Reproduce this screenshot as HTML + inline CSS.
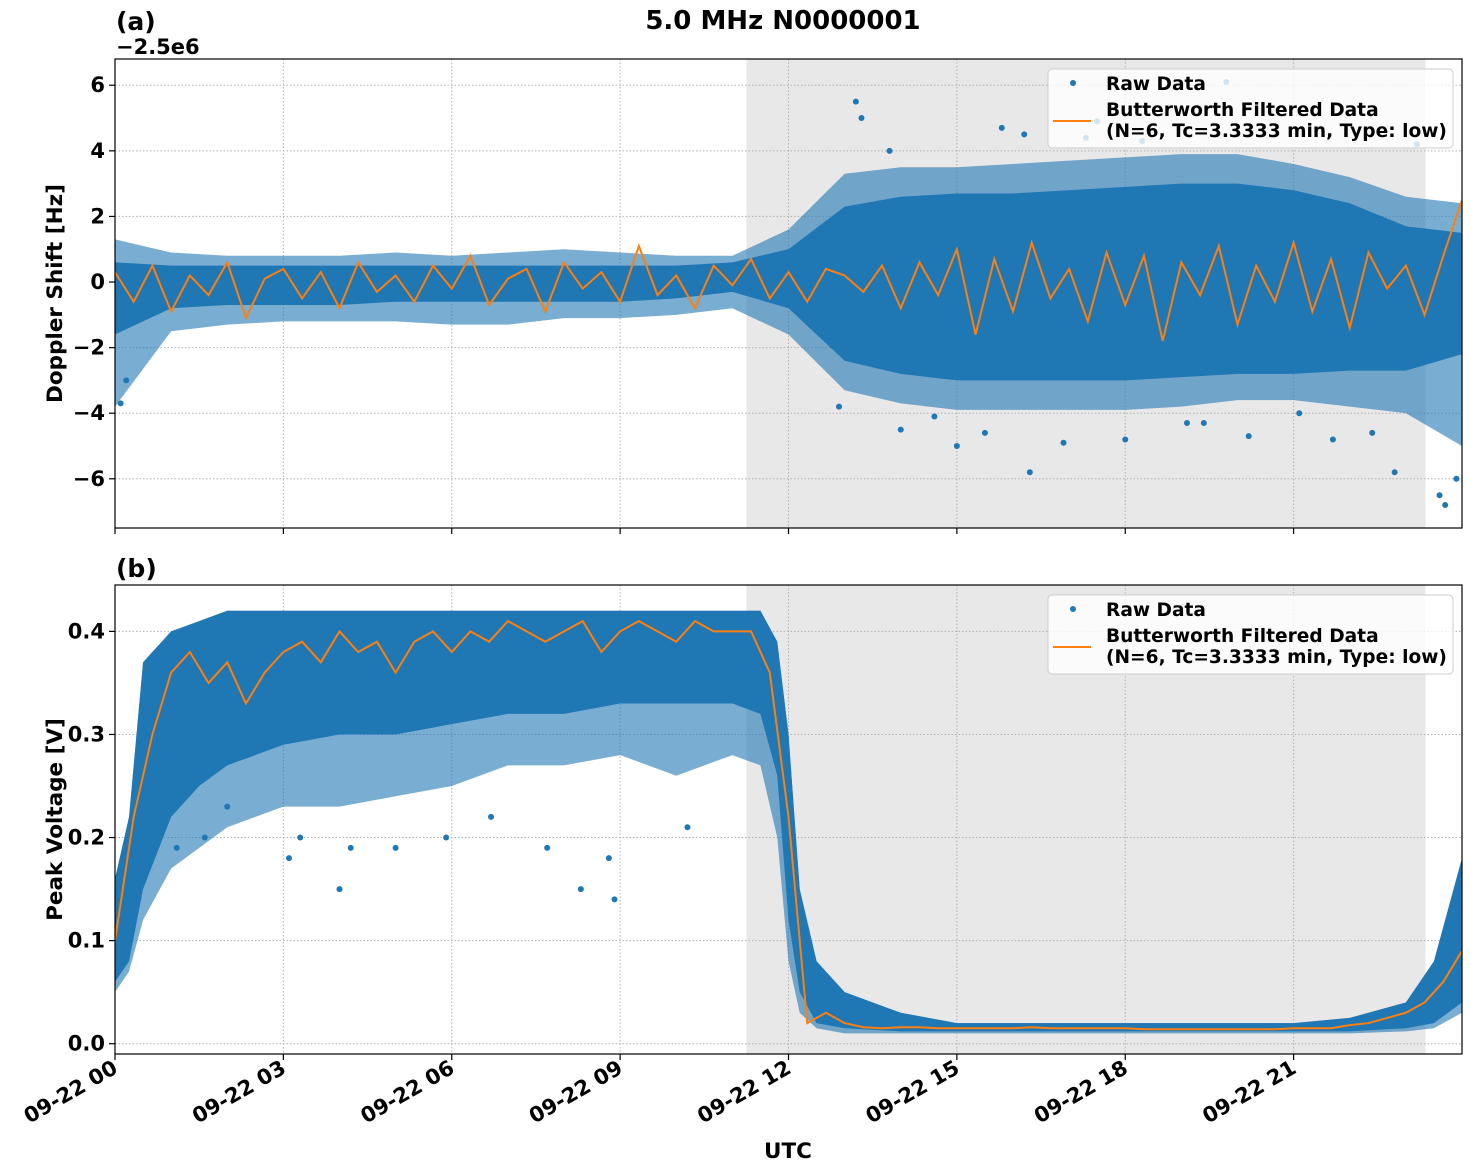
<!DOCTYPE html>
<html><head><meta charset="utf-8">
<style>
html,body{margin:0;padding:0;background:#fff;}
svg{display:block;font-family:"DejaVu Sans","Liberation Sans",sans-serif;font-weight:bold;}
</style></head>
<body>
<svg id="chart" width="1471" height="1172" xmlns="http://www.w3.org/2000/svg"></svg>
<script>
// ---- Data ----
const xTickLabels = ["09-22 00","09-22 03","09-22 06","09-22 09","09-22 12","09-22 15","09-22 18","09-22 21"];
const xTickHours = [0,3,6,9,12,15,18,21];
const shadeStartHour = 11.25, shadeEndHour = 23.35;
const yTicksA = [-6,-4,-2,0,2,4,6];
const yTicksB = [0.0,0.1,0.2,0.3,0.4];

const hoursA = [0,1,2,3,4,5,6,7,8,9,10,11,12,13,14,15,16,17,18,19,20,21,22,23,24];
const outerUpperA = [1.3,0.9,0.8,0.8,0.8,0.9,0.8,0.9,1.0,0.9,0.8,0.8,1.6,3.3,3.5,3.5,3.6,3.7,3.8,3.9,3.9,3.6,3.2,2.6,2.4];
const outerLowerA = [-3.8,-1.5,-1.3,-1.2,-1.2,-1.2,-1.3,-1.3,-1.1,-1.1,-1.0,-0.8,-1.6,-3.3,-3.7,-3.9,-3.9,-3.9,-3.9,-3.8,-3.6,-3.6,-3.8,-4.0,-5.0];
const coreUpperA = [0.6,0.5,0.5,0.5,0.5,0.5,0.5,0.5,0.5,0.5,0.5,0.6,1.0,2.3,2.6,2.7,2.7,2.8,2.9,3.0,3.0,2.8,2.4,1.7,1.5];
const coreLowerA = [-1.6,-0.8,-0.7,-0.7,-0.7,-0.6,-0.6,-0.6,-0.6,-0.6,-0.5,-0.3,-0.8,-2.4,-2.8,-3.0,-3.0,-3.0,-3.0,-2.9,-2.8,-2.8,-2.7,-2.7,-2.2];
const outlierHoursA = [0.1,0.2,12.9,13.2,13.3,14.0,15.0,15.8,16.3,16.9,17.5,18.0,19.1,19.8,21.7,22.8,23.6,23.7,23.9,13.8,14.6,15.5,16.2,17.3,18.3,19.4,20.2,21.1,22.4,23.2];
const outlierValsA = [-3.7,-3.0,-3.8,5.5,5.0,-4.5,-5.0,4.7,-5.8,-4.9,4.9,-4.8,-4.3,6.1,-4.8,-5.8,-6.5,-6.8,-6.0,4.0,-4.1,-4.6,4.5,4.4,4.3,-4.3,-4.7,-4.0,-4.6,4.2];
const filtA = [0.3,-0.6,0.5,-0.9,0.2,-0.4,0.6,-1.1,0.1,0.4,-0.5,0.3,-0.8,0.6,-0.3,0.2,-0.6,0.5,-0.2,0.8,-0.7,0.1,0.4,-0.9,0.6,-0.2,0.3,-0.6,1.1,-0.4,0.2,-0.8,0.5,-0.1,0.7,-0.5,0.3,-0.6,0.4,0.2,-0.3,0.5,-0.8,0.6,-0.4,1.0,-1.6,0.7,-0.9,1.2,-0.5,0.4,-1.2,0.9,-0.7,0.8,-1.8,0.6,-0.4,1.1,-1.3,0.5,-0.6,1.2,-0.9,0.7,-1.4,0.9,-0.2,0.5,-1.0,0.8,2.5];

const hoursB = [0,0.25,0.5,1,1.5,2,3,4,5,6,7,8,9,10,11,11.5,11.8,12,12.2,12.5,13,14,15,18,21,22,23,23.5,24];
const upperB = [0.16,0.22,0.37,0.40,0.41,0.42,0.42,0.42,0.42,0.42,0.42,0.42,0.42,0.42,0.42,0.42,0.39,0.30,0.15,0.08,0.05,0.03,0.02,0.02,0.02,0.025,0.04,0.08,0.18];
const coreLowerB = [0.06,0.08,0.15,0.22,0.25,0.27,0.29,0.30,0.30,0.31,0.32,0.32,0.33,0.33,0.33,0.32,0.26,0.12,0.05,0.02,0.015,0.012,0.012,0.012,0.012,0.012,0.015,0.02,0.04];
const outerLowerB = [0.05,0.07,0.12,0.17,0.19,0.21,0.23,0.23,0.24,0.25,0.27,0.27,0.28,0.26,0.28,0.27,0.2,0.08,0.03,0.015,0.01,0.01,0.01,0.01,0.01,0.01,0.012,0.015,0.03];
const outlierHoursB = [1.1,1.6,2.0,3.1,3.3,4.0,4.2,5.0,5.9,6.7,7.7,8.3,8.8,8.9,10.2];
const outlierValsB = [0.19,0.2,0.23,0.18,0.2,0.15,0.19,0.19,0.2,0.22,0.19,0.15,0.18,0.14,0.21];
const filtB = [0.10,0.22,0.30,0.36,0.38,0.35,0.37,0.33,0.36,0.38,0.39,0.37,0.40,0.38,0.39,0.36,0.39,0.40,0.38,0.40,0.39,0.41,0.40,0.39,0.40,0.41,0.38,0.40,0.41,0.40,0.39,0.41,0.40,0.40,0.40,0.36,0.22,0.02,0.03,0.02,0.016,0.015,0.016,0.016,0.015,0.015,0.015,0.015,0.015,0.016,0.015,0.015,0.015,0.015,0.015,0.014,0.014,0.014,0.014,0.014,0.014,0.014,0.014,0.015,0.015,0.015,0.018,0.02,0.025,0.03,0.04,0.06,0.09];

// ---- Layout ----
const X0=115, X1=1462;
const A = {top:59, bot:528, y0:-7.5, y1:6.8};
const B = {top:585, bot:1054, y0:-0.01, y1:0.445};
const BLUE="#1f77b4", ORANGE="#ff7f0e";
const svg=document.getElementById('chart');
const NS="http://www.w3.org/2000/svg";
function xs(h){return X0+(h/24)*(X1-X0);}
function ysF(p){return v=>p.bot-(v-p.y0)/(p.y1-p.y0)*(p.bot-p.top);}
const yA=ysF(A), yB=ysF(B);
function el(tag,attrs,parent){const e=document.createElementNS(NS,tag);for(const k in attrs)e.setAttribute(k,attrs[k]);(parent||svg).appendChild(e);return e;}
function txt(s,attrs,parent){const e=el('text',attrs,parent);e.textContent=s;return e;}

function band(hours,up,lo,ys,fill,op,name,g){
  let pts=hours.map((h,i)=>xs(h)+','+ys(up[i]));
  for(let i=hours.length-1;i>=0;i--)pts.push(xs(hours[i])+','+ys(lo[i]));
  const p=el('polygon',{points:pts.join(' '),fill:fill,'fill-opacity':op},g);
  
  
}

function panel(p,ys,yTicks,tickFmt,label,labelY,ylabel,draw){
  const g=el('g',{});
  
  
  const clipId='clip'+label;
  const cp=el('clipPath',{id:clipId},g);
  el('rect',{x:X0,y:p.top,width:X1-X0,height:p.bot-p.top},cp);
  const sh=el('rect',{x:xs(shadeStartHour),y:p.top,width:xs(shadeEndHour)-xs(shadeStartHour),height:p.bot-p.top,fill:'#e8e8e8'},g);
  
  
  xTickHours.forEach(h=>{if(h>0)el('line',{x1:xs(h),x2:xs(h),y1:p.top,y2:p.bot,stroke:'#b0b0b0','stroke-dasharray':'1.5,2','stroke-width':1},g);});
  yTicks.forEach(v=>{
    el('line',{x1:X0,x2:X1,y1:ys(v),y2:ys(v),stroke:'#b0b0b0','stroke-dasharray':'1.5,2','stroke-width':1},g);
    el('line',{x1:X0-6,x2:X0,y1:ys(v),y2:ys(v),stroke:'#000','stroke-width':1.2},g);
    const t=txt(tickFmt(v),{x:X0-10,y:ys(v)+7,'text-anchor':'end','font-size':21},g);
    
    
  });
  const dg=el('g',{'clip-path':'url(#'+clipId+')'},g);
  draw(dg);
  xTickHours.forEach(h=>el('line',{x1:xs(h),x2:xs(h),y1:p.bot,y2:p.bot+6,stroke:'#000','stroke-width':1.2},g));
  el('rect',{x:X0,y:p.top,width:X1-X0,height:p.bot-p.top,fill:'none',stroke:'#000','stroke-width':1.2},g);
  const pl=txt('('+label+')',{x:116,y:labelY,'font-size':25},g);
  
  
  const yl=txt(ylabel,{x:0,y:0,'font-size':21.5,'text-anchor':'middle',transform:'translate(62,'+((p.top+p.bot)/2)+') rotate(-90)'},g);
  
  
  // legend
  const lg=el('g',{},g);
  
  
  el('rect',{x:1048,y:p.top+10,width:405,height:79,rx:4,fill:'#fff','fill-opacity':0.8,stroke:'#ccc'},lg);
  el('circle',{cx:1073,cy:p.top+24,r:3,fill:BLUE},lg);
  txt('Raw Data',{x:1106,y:p.top+31,'font-size':18.6},lg);
  el('line',{x1:1053,x2:1091,y1:p.top+62,y2:p.top+62,stroke:ORANGE,'stroke-width':2},lg);
  txt('Butterworth Filtered Data',{x:1106,y:p.top+57,'font-size':18.6},lg);
  txt('(N=6, Tc=3.3333 min, Type: low)',{x:1106,y:p.top+78,'font-size':18.6},lg);
}

function drawSeries(dg,hours,oU,oL,cU,cL,oh,ov,filt,ys,tag){
  band(hours,oU,oL,ys,BLUE,0.6,'raw-data-scatter-outer-'+tag,dg);
  band(hours,cU,cL,ys,BLUE,1,'raw-data-scatter-core-'+tag,dg);
  oh.forEach((h,i)=>{
    const c=el('circle',{cx:xs(h),cy:ys(ov[i]),r:3,fill:BLUE},dg);
    
    
  });
  const step=24/(filt.length-1);
  const pl=el('polyline',{points:filt.map((v,i)=>xs(i*step)+','+ys(v)).join(' '),fill:'none',stroke:ORANGE,'stroke-width':2},dg);
  
  
}

panel(A,yA,yTicksA,v=>v<0?'\u2212'+Math.abs(v):String(v),'a',30,'Doppler Shift [Hz]',dg=>drawSeries(dg,hoursA,outerUpperA,outerLowerA,coreUpperA,coreLowerA,outlierHoursA,outlierValsA,filtA,yA,'a'));
panel(B,yB,yTicksB,v=>v.toFixed(1),'b',577,'Peak Voltage [V]',dg=>drawSeries(dg,hoursB,upperB,outerLowerB,upperB,coreLowerB,outlierHoursB,outlierValsB,filtB,yB,'b'));

const off=txt('\u22122.5e6',{x:116,y:54,'font-size':21});


const title=txt('5.0 MHz N0000001',{x:783,y:29,'font-size':26,'text-anchor':'middle'});


xTickLabels.forEach((s,i)=>{
  const x=xs(xTickHours[i]);
  const t=txt(s,{x:0,y:0,'font-size':21,'text-anchor':'end',transform:'translate('+(x+4)+','+1072+') rotate(-30)'});
  
  
});
const xt=txt('UTC',{x:788,y:1158,'font-size':21.5,'text-anchor':'middle'});


</script>
</body></html>
